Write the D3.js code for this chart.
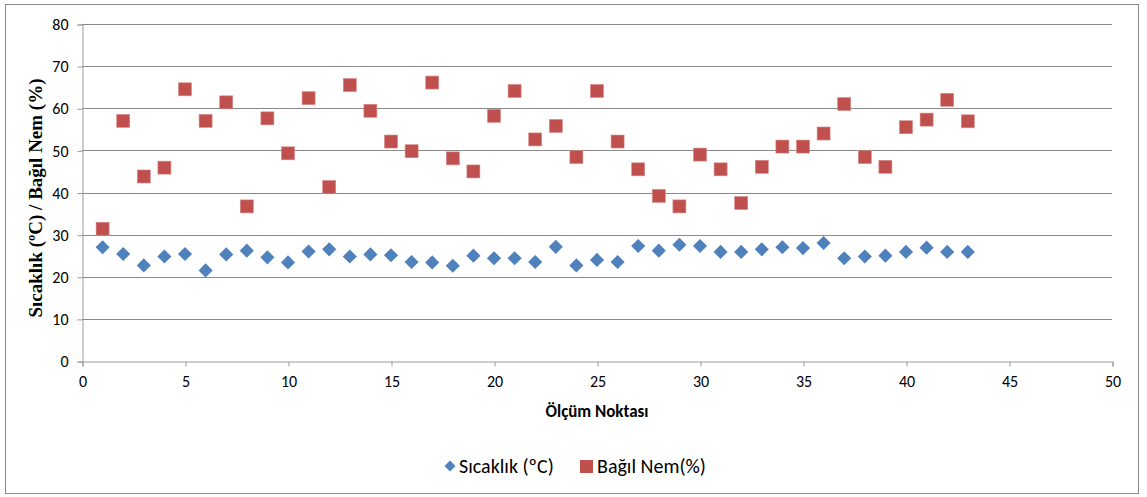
<!DOCTYPE html>
<html>
<head>
<meta charset="utf-8">
<script src="https://cdn.jsdelivr.net/npm/d3@7"></script>
<style>
  html, body { margin: 0; padding: 0; background: #fff; }
  svg { display: block; }
</style>
</head>
<body>
<svg id="chart" width="1147" height="497"></svg>
<script>
// Measurement points 1..43
const points = d3.range(1, 44);

// Temperature (°C) at each measurement point
const sicaklik = [27.0, 25.4, 22.7, 24.8, 25.4, 21.5, 25.3, 26.2, 24.6, 23.4,
                  26.0, 26.5, 24.8, 25.3, 25.1, 23.5, 23.4, 22.6, 25.0, 24.4,
                  24.4, 23.5, 27.1, 22.7, 24.0, 23.5, 27.3, 26.2, 27.6, 27.3,
                  25.9, 25.9, 26.5, 27.0, 26.8, 28.0, 24.4, 24.8, 25.0, 25.9,
                  26.9, 25.9, 25.9];

// Relative humidity (%) at each measurement point
const bagilNem = [31.4, 57.0, 43.8, 45.9, 64.5, 57.0, 61.4, 36.7, 57.6, 49.3,
                  62.4, 41.3, 65.5, 59.4, 52.1, 49.8, 66.1, 48.1, 45.0, 58.2,
                  64.1, 52.6, 55.8, 48.4, 64.1, 52.1, 45.5, 39.2, 36.7, 49.0,
                  45.5, 37.5, 46.1, 50.9, 50.9, 54.0, 61.0, 48.4, 46.1, 55.5,
                  57.3, 62.0, 56.9];

const xTicks = [0, 5, 10, 15, 20, 25, 30, 35, 40, 45, 50];
const yTicks = [0, 10, 20, 30, 40, 50, 60, 70, 80];

const seriesNames = ["Sıcaklık (ºC)", "Bağıl Nem(%)"];
const colors = ["#4F81BD", "#C0504D"];

const sansFont = "Carlito, 'Liberation Sans', Arial, sans-serif";

const svg = d3.select("#chart");
const plot = { left: 82, right: 1112, top: 24, bottom: 361 };

const x = d3.scaleLinear().domain([0, 50]).range([plot.left, plot.right]);
const y = d3.scaleLinear().domain([0, 80]).range([plot.bottom, plot.top]);

// Outer chart frame
svg.append("rect")
  .attr("x", 5.5).attr("y", 4.5)
  .attr("width", 1133).attr("height", 489)
  .attr("fill", "#fff")
  .attr("stroke", "#8c8c8c").attr("stroke-width", 1);

// Horizontal gridlines
svg.append("g")
  .selectAll("line")
  .data(yTicks.filter(d => d > 0))
  .join("line")
  .attr("x1", plot.left).attr("x2", plot.right)
  .attr("y1", d => Math.round(y(d)) + 0.5).attr("y2", d => Math.round(y(d)) + 0.5)
  .attr("stroke", "#8a8a8a").attr("stroke-width", 1);

// Y axis
const yAxis = svg.append("g")
  .attr("transform", `translate(${plot.left + 0.5},0.5)`)
  .call(d3.axisLeft(y).tickValues(yTicks).tickSize(5).tickPadding(9).tickFormat(d3.format("d")));
yAxis.select(".domain").attr("stroke", "#9a9a9a");
yAxis.selectAll(".tick line").attr("stroke", "#9a9a9a");
yAxis.selectAll("text")
  .attr("font-family", sansFont)
  .attr("font-size", 16).attr("fill", "#000");

// X axis
const xAxis = svg.append("g")
  .attr("transform", `translate(0.5,${Math.round(plot.bottom) + 0.5})`)
  .call(d3.axisBottom(x).tickValues(xTicks).tickSize(5).tickPadding(9).tickFormat(d3.format("d")));
xAxis.select(".domain").attr("stroke", "#9a9a9a");
xAxis.selectAll(".tick line").attr("stroke", "#9a9a9a");
xAxis.selectAll("text")
  .attr("font-family", sansFont)
  .attr("font-size", 16).attr("fill", "#000");

// Axis titles
svg.append("text")
  .attr("x", 597).attr("y", 417)
  .attr("text-anchor", "middle")
  .attr("font-family", sansFont)
  .attr("font-size", 17).attr("font-weight", "bold")
  .text("Ölçüm Noktası");

svg.append("text")
  .attr("transform", "translate(42,198) rotate(-90)")
  .attr("text-anchor", "middle")
  .attr("font-family", "'Liberation Serif', 'Times New Roman', serif")
  .attr("font-size", 19).attr("font-weight", "bold")
  .text("Sıcaklık  (ºC) / Bağıl Nem (%)");

const diamond = d3.symbol().type(d3.symbolSquare).size(100);

// Humidity squares
svg.append("g")
  .selectAll("rect")
  .data(points.map((p, i) => [p, bagilNem[i]]))
  .join("rect")
  .attr("x", d => x(d[0]) - 6.5).attr("y", d => y(d[1]) - 6.5)
  .attr("width", 13).attr("height", 13)
  .attr("fill", colors[1])
  .attr("stroke", "#d98886").attr("stroke-width", 0.6);

// Temperature diamonds
svg.append("g")
  .selectAll("path")
  .data(points.map((p, i) => [p, sicaklik[i]]))
  .join("path")
  .attr("d", diamond)
  .attr("transform", d => `translate(${x(d[0])},${y(d[1])}) rotate(45)`)
  .attr("fill", colors[0]);

// Legend
const legend = svg.append("g").attr("font-family", sansFont).attr("font-size", 20);
legend.append("path")
  .attr("d", d3.symbol().type(d3.symbolSquare).size(60))
  .attr("transform", "translate(450,466) rotate(45)")
  .attr("fill", colors[0]);
legend.append("text").attr("x", 459).attr("y", 473).text(seriesNames[0]);
legend.append("rect")
  .attr("x", 580).attr("y", 460).attr("width", 13).attr("height", 13)
  .attr("fill", colors[1]);
legend.append("text").attr("x", 597).attr("y", 473).text(seriesNames[1]);
</script>
</body>
</html>
